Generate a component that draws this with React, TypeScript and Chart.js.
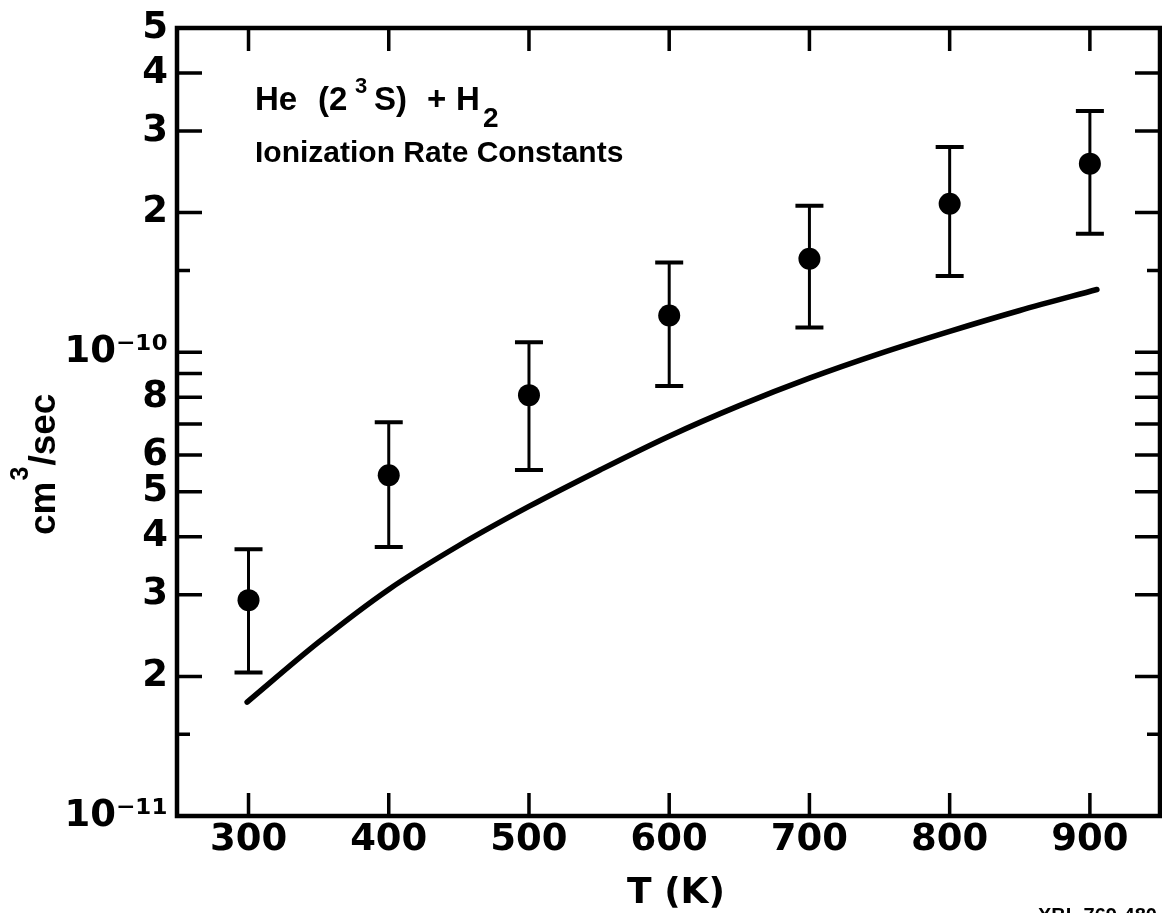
import React, { useEffect, useRef } from "react";
import { Chart, registerables } from "chart.js";

Chart.register(...registerables);

// ---- data ----
const temperatures = [300, 400, 500, 600, 700, 800, 900];
const measuredRate = [2.92e-11, 5.43e-11, 8.08e-11, 1.2e-10, 1.59e-10, 2.09e-10, 2.55e-10];
const rateUpper = [3.76e-11, 7.06e-11, 1.05e-10, 1.56e-10, 2.07e-10, 2.77e-10, 3.31e-10];
const rateLower = [2.04e-11, 3.8e-11, 5.57e-11, 8.45e-11, 1.13e-10, 1.46e-10, 1.8e-10];

const curveTemps = [299, 350, 400, 450, 500, 550, 600, 650, 700, 750, 800, 850, 905];
const curveRate = [
  1.76e-11, 2.37e-11, 3.08e-11, 3.83e-11, 4.65e-11, 5.56e-11, 6.59e-11, 7.67e-11, 8.79e-11, 9.93e-11,
  1.109e-10, 1.23e-10, 1.365e-10,
];

const xTickValues = [300, 400, 500, 600, 700, 800, 900];
const xTickLabels = ["300", "400", "500", "600", "700", "800", "900"];

const yTickValues = [
  1e-11, 1.5e-11, 2e-11, 3e-11, 4e-11, 5e-11, 6e-11, 7e-11, 8e-11, 9e-11, 1e-10, 1.5e-10, 2e-10, 3e-10,
  4e-10, 5e-10,
];
const yTickLabels = [
  "10\u207B\u00B9\u00B9", "", "2", "3", "4", "5", "6", "", "8", "", "10\u207B\u00B9\u2070", "", "2", "3", "4", "5",
];

const titleLine2 = "Ionization Rate Constants";
const yAxisTitle = ["cm", "3", "/sec"];
const xAxisTitle = "T (K)";
const figureId = "XBL 769-480";

const framePlugin = {
  id: "framePlugin",
  beforeDatasetsDraw(chart: any) {
    const { ctx, scales } = chart;
    const x = scales.x;
    const y = scales.y;
    ctx.save();
    ctx.strokeStyle = "#000";
    ctx.lineCap = "butt";
    temperatures.forEach((t, i) => {
      const px = x.getPixelForValue(t);
      const hi = y.getPixelForValue(rateUpper[i]);
      const lo = y.getPixelForValue(rateLower[i]);
      ctx.lineWidth = 3;
      ctx.beginPath();
      ctx.moveTo(px, hi);
      ctx.lineTo(px, lo);
      ctx.stroke();
      ctx.lineWidth = 4;
      ctx.beginPath();
      ctx.moveTo(px - 14, hi);
      ctx.lineTo(px + 14, hi);
      ctx.moveTo(px - 14, lo);
      ctx.lineTo(px + 14, lo);
      ctx.stroke();
    });
    ctx.restore();
  },
  afterDraw(chart: any) {
    const { ctx, chartArea, scales } = chart;
    const { left, right, top, bottom } = chartArea;
    const x = scales.x;
    const y = scales.y;
    ctx.save();
    ctx.strokeStyle = "#000";
    ctx.fillStyle = "#000";
    // frame
    ctx.lineWidth = 4.5;
    ctx.strokeRect(left, top, right - left, bottom - top);
    // x ticks (inside, top and bottom)
    ctx.lineWidth = 3.5;
    ctx.beginPath();
    xTickValues.forEach((v) => {
      const px = x.getPixelForValue(v);
      ctx.moveTo(px, bottom);
      ctx.lineTo(px, bottom - 23);
      ctx.moveTo(px, top);
      ctx.lineTo(px, top + 23);
    });
    // y ticks (inside, left and right)
    yTickValues.forEach((v) => {
      const py = y.getPixelForValue(v);
      if (Math.abs(py - top) < 2 || Math.abs(py - bottom) < 2) return;
      const m = v / Math.pow(10, Math.floor(Math.log10(v) + 1e-9));
      const len = Math.abs(m - 1.5) < 0.01 ? 13 : 25;
      ctx.moveTo(left, py);
      ctx.lineTo(left + len, py);
      ctx.moveTo(right, py);
      ctx.lineTo(right - len, py);
    });
    ctx.stroke();

    // annotation text
    const main = "bold 33px 'Liberation Sans'";
    ctx.textBaseline = "alphabetic";
    ctx.textAlign = "left";
    ctx.font = main;
    ctx.fillText("He", 255, 110);
    ctx.fillText("(2", 318, 110);
    ctx.font = "bold 22px 'Liberation Sans'";
    ctx.fillText("3", 355, 93);
    ctx.font = main;
    ctx.fillText("S)", 374, 110);
    ctx.fillText("+", 427, 110);
    ctx.fillText("H", 456, 110);
    ctx.font = "bold 28px 'Liberation Sans'";
    ctx.fillText("2", 483, 127);
    ctx.font = "bold 30px 'Liberation Sans'";
    ctx.fillText(titleLine2, 255, 162);

    // y axis title (rotated)
    ctx.save();
    ctx.translate(55, 535);
    ctx.rotate(-Math.PI / 2);
    ctx.font = "bold 37px 'Liberation Sans'";
    ctx.fillText(yAxisTitle[0], 0, 0);
    let w = ctx.measureText(yAxisTitle[0]).width;
    ctx.font = "bold 25px 'Liberation Sans'";
    ctx.fillText(yAxisTitle[1], w + 1, -27);
    w += ctx.measureText(yAxisTitle[1]).width + 2;
    ctx.font = "bold 37px 'Liberation Sans'";
    ctx.fillText(yAxisTitle[2], w, 0);
    ctx.restore();

    // x axis title
    ctx.font = "bold 36px 'DejaVu Sans'";
    ctx.textAlign = "center";
    ctx.fillText(xAxisTitle, 676, 903);

    // figure id (cut at the bottom edge)
    ctx.font = "bold 20px 'Liberation Sans'";
    ctx.textAlign = "left";
    ctx.textBaseline = "top";
    ctx.fillText(figureId, 1038, 906);
    ctx.restore();
  },
};

export default function App() {
  const canvasRef = useRef<HTMLCanvasElement | null>(null);

  useEffect(() => {
    document.body.style.margin = "0";
    const canvas = canvasRef.current;
    if (!canvas) return;
    const tickFont = { family: "DejaVu Sans", size: 37, weight: "bold" as const };
    const chart = new Chart(canvas, {
      type: "scatter",
      data: {
        datasets: [
          {
            label: "theory",
            data: curveTemps.map((t, i) => ({ x: t, y: curveRate[i] })),
            showLine: true,
            borderColor: "#000",
            borderWidth: 5.5,
            pointRadius: 0,
            cubicInterpolationMode: "monotone",
            borderCapStyle: "round",
          } as any,
          {
            label: "measured",
            data: temperatures.map((t, i) => ({ x: t, y: measuredRate[i] })),
            showLine: false,
            pointRadius: 11,
            pointBackgroundColor: "#000",
            pointBorderColor: "#000",
            pointBorderWidth: 0,
          } as any,
        ],
      },
      options: {
        responsive: false,
        animation: false,
        devicePixelRatio: 1,
        layout: { autoPadding: false, padding: { top: 28, right: 2, left: 0, bottom: 0 } },
        plugins: { legend: { display: false }, tooltip: { enabled: false }, title: { display: false } },
        scales: {
          x: {
            type: "linear",
            min: 249,
            max: 950,
            grid: { display: false, drawTicks: false },
            border: { display: false },
            afterBuildTicks: (s: any) => {
              s.ticks = xTickValues.map((v) => ({ value: v }));
            },
            afterFit: (s: any) => {
              s.height = 97;
              s.paddingLeft = 0;
              s.paddingRight = 0;
            },
            ticks: {
              autoSkip: false,
              maxRotation: 0,
              minRotation: 0,
              padding: 2,
              color: "#000",
              font: tickFont,
              callback: (_v: any, i: number) => xTickLabels[i],
            },
          },
          y: {
            type: "logarithmic",
            min: 1e-11,
            max: 5e-10,
            grid: { display: false, drawTicks: false },
            border: { display: false },
            afterBuildTicks: (s: any) => {
              s.ticks = yTickValues.map((v) => ({ value: v }));
            },
            afterFit: (s: any) => {
              s.width = 177;
              s.paddingTop = 0;
              s.paddingBottom = 0;
            },
            ticks: {
              autoSkip: false,
              padding: 9,
              color: "#000",
              font: tickFont,
              callback: (_v: any, i: number) => yTickLabels[i],
            },
          },
        },
      },
      plugins: [framePlugin],
    } as any);
    return () => chart.destroy();
  }, []);

  return (
    <div style={{ width: 1162, height: 913, overflow: "hidden", background: "#fff" }}>
      <canvas ref={canvasRef} width={1162} height={913} style={{ display: "block" }} />
    </div>
  );
}
